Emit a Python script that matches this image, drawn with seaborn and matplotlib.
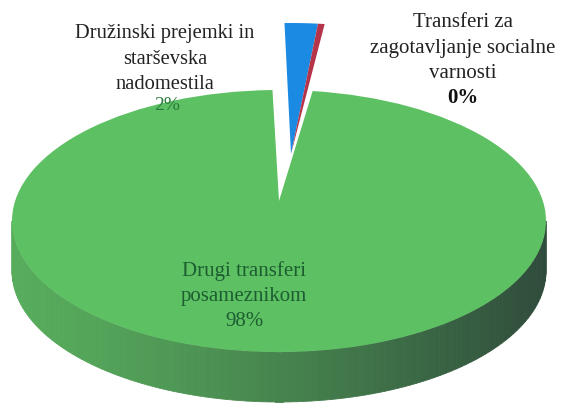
import numpy as np
import matplotlib
matplotlib.use("Agg")
import matplotlib.pyplot as plt
from matplotlib.patches import Polygon, PathPatch
from matplotlib.path import Path
from matplotlib.colors import to_rgb
import seaborn as sns

# data
categories = ["Družinski prejemki in\nstarševska\nnadomestila",
              "Transferi za\nzagotavljanje socialne\nvarnosti",
              "Drugi transferi\nposameznikom"]
shares = [2.0, 0.4, 97.6]
colors = ["#1b8ae2", "#b5344a", "#5dc063"]
pulled_out = [True, True, False]

sns.set_theme(style="white")
plt.rcParams["font.family"] = ["Liberation Serif", "DejaVu Serif"]

fig = plt.figure(figsize=(5.66, 4.06), dpi=100)
ax = fig.add_axes([0, 0, 1, 1])

# ellipse of the top face, in pixels (apex sits a bit behind the centre)
CX, CY, RX, RY, DEPTH, APEX_UP = 279, 222, 267, 131, 50, 20


def to_data(px, py):
    return (px - CX) / RX, (CY - py) / RY


wedges, _ = ax.pie(shares, colors=colors, startangle=91.4,
                   counterclock=False, radius=1,
                   wedgeprops=dict(linewidth=0, antialiased=True))

# the two small slices are lifted out together, behind the big one
lift = (12 / RX, 67 / RY)
for w, p in zip(wedges, pulled_out):
    if p:
        w.set_center(lift)
        w.set_zorder(1)

# big slice: move its apex back for the perspective look
big = wedges[2]
path = big.get_path()
verts = path.vertices.copy()
at_apex = np.hypot(verts[:, 0], verts[:, 1]) < 1e-9
verts[at_apex, 1] += APEX_UP / RY
big.set_visible(False)
ax.add_patch(PathPatch(Path(verts, path.codes), facecolor=big.get_facecolor(),
                       linewidth=0, zorder=3))

# side wall of the big slice (front half only)
lo = max(big.theta1, -180)
hi = min(big.theta2, 0)
d = DEPTH / RY
light = np.array(to_rgb("#57ac5c"))
dark = np.array(to_rgb("#2f4b3b"))
ts = np.radians(np.linspace(lo, hi, 120))
for t0, t1 in zip(ts[:-1], ts[1:]):
    f = ((np.cos((t0 + t1) / 2) + 1) / 2) ** 1.3
    c = light * (1 - f) + dark * f
    pts = [(np.cos(t0), np.sin(t0)), (np.cos(t1), np.sin(t1)),
           (np.cos(t1), np.sin(t1) - d), (np.cos(t0), np.sin(t0) - d)]
    ax.add_patch(Polygon(pts, closed=True, facecolor=c, edgecolor=c,
                         linewidth=0.6, zorder=2))

ax.set_aspect("auto")
x0, y0 = to_data(0, 406)
x1, y1 = to_data(566, 0)
ax.set_xlim(x0, x1)
ax.set_ylim(y0, y1)
ax.axis("off")

pcts = [f"{round(v):.0f}%" for v in shares]

ax.text(*to_data(165, 59), categories[0], ha="center", va="center",
        fontsize=14.8, linespacing=1.45, color="#222222", zorder=5)
ax.text(*to_data(167, 106), pcts[0], ha="center", va="center",
        fontsize=14, color="#2b7a3c", zorder=5)

ax.text(*to_data(463, 48), categories[1], ha="center", va="center",
        fontsize=15, linespacing=1.45, color="#222222", zorder=5)
ax.text(*to_data(463, 98), pcts[1], ha="center", va="center",
        fontsize=15, color="#111111", fontweight="bold", zorder=5)

ax.text(*to_data(244, 296), categories[2] + "\n" + pcts[2], ha="center",
        va="center", fontsize=15, linespacing=1.4, color="#1d5e31", zorder=5)

fig.savefig("out.png", dpi=100)
